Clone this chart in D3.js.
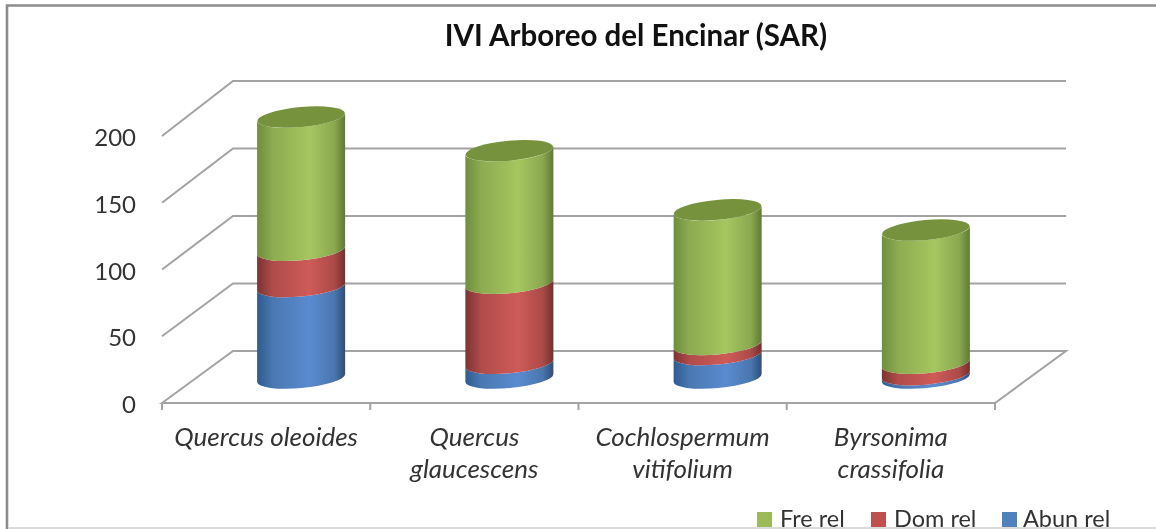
<!DOCTYPE html>
<html>
<head>
<meta charset="utf-8">
<script src="https://cdn.jsdelivr.net/npm/d3@7"></script>
<style>
html, body { margin: 0; padding: 0; background: #fff; overflow: hidden; }
text { font-family: Lato, "Open Sans", sans-serif; fill: #333; }
svg { filter: blur(0.45px); }
</style>
</head>
<body>
<div id="chart"></div>
<script>
// values
const categories = [
    ["Quercus oleoides"],
    ["Quercus", "glaucescens"],
    ["Cochlospermum", "vitifolium"],
    ["Byrsonima", "crassifolia"]
];
const abunRel = [68, 11, 17.5, 2.5];
const domRel = [27, 59.5, 7.5, 8.5];
const freRel = [99, 98.5, 100, 99];
const yTicks = [0, 50, 100, 150, 200];
const seriesNames = ["Abun rel", "Dom rel", "Fre rel"];

const width = 1156, height = 529;
const colors = {
    "Abun rel": { edgeL: "#2f5b90", soft: "#4a78b2", mid: "#5a8bd0", softR: "#4a76ae", edgeR: "#2c4e7a", flat: "#4f81bd" },
    "Dom rel": { edgeL: "#7c3331", soft: "#b04c4a", mid: "#ce5b58", softR: "#ab4a48", edgeR: "#732f2d", flat: "#c0504d" },
    "Fre rel": { edgeL: "#6f8e3c", soft: "#8dab50", mid: "#a5c660", softR: "#8aa84f", edgeR: "#5e7a35", flat: "#9bbb59" }
};
const topColor = "#76923c";
const gridColor = "#a3a3a3";

// 3d box: front plane, back plane, and the plane the cylinders stand in
const xFront = d3.scaleBand().domain(d3.range(4)).range([162, 995]);
const xMid = d3.scaleBand().domain(d3.range(4)).range([197, 1030]);
const yFront = d3.scaleLinear().domain([0, 200]).range([403, 136]);
const yBack = d3.scaleLinear().domain([0, 200]).range([351, 81]);
const yMid = d3.scaleLinear().domain([0, 200]).range([378, 109]);
const backLeft = 233, backRight = 1066;

const barRx = 44, barRy = 10, slant = 4, tilt = -5.3;

const svg = d3.select("#chart")
    .append("svg")
    .attr("width", width)
    .attr("height", height)
    .style("display", "block");

// outer frame, the right side is cut off in the picture
svg.append("path")
    .attr("d", "M7,529V5.5H1156")
    .attr("fill", "none")
    .attr("stroke", "#8c8c8c")
    .attr("stroke-width", 2.6);
svg.append("line")
    .attr("x1", 8).attr("x2", 1156)
    .attr("y1", 528).attr("y2", 528)
    .attr("stroke", "#cfcfcf")
    .attr("stroke-width", 1.5);

svg.append("text")
    .attr("x", 636)
    .attr("y", 46)
    .attr("text-anchor", "middle")
    .attr("font-size", 29.5)
    .attr("font-weight", "bold")
    .style("fill", "#111")
    .text("IVI Arboreo del Encinar (SAR)");

// gradients for cylinder sides
let defs = svg.append("defs");
seriesNames.forEach(function (name, i) {
    let grad = defs.append("linearGradient")
        .attr("id", "side-" + i);
    grad.append("stop").attr("offset", "0%").attr("stop-color", colors[name].edgeL);
    grad.append("stop").attr("offset", "18%").attr("stop-color", colors[name].soft);
    grad.append("stop").attr("offset", "60%").attr("stop-color", colors[name].mid);
    grad.append("stop").attr("offset", "88%").attr("stop-color", colors[name].softR);
    grad.append("stop").attr("offset", "100%").attr("stop-color", colors[name].edgeR);
});

// ****** walls and grid **************
let grid = svg.append("g")
    .attr("fill", "none")
    .attr("stroke", gridColor)
    .attr("stroke-width", 2);

grid.selectAll(".grid")
    .data(yTicks.slice(1))
    .enter()
    .append("path")
    .attr("class", "grid")
    .attr("d", function (t) {
        return "M" + xFront.range()[0] + "," + yFront(t) + "L" + backLeft + "," + yBack(t) + "H" + backRight;
    });

// floor
grid.append("path")
    .attr("d", "M" + xFront.range()[0] + "," + yFront(0) + "L" + backLeft + "," + yBack(0) + "H" + backRight
        + "L" + xFront.range()[1] + "," + yFront(0) + "Z");

// category ticks
let edges = d3.range(4).map(function (i) { return xFront(i); }).concat([xFront.range()[1]]);
grid.selectAll(".xtick")
    .data(edges)
    .enter()
    .append("line")
    .attr("class", "xtick")
    .attr("x1", function (d) { return d; })
    .attr("x2", function (d) { return d; })
    .attr("y1", yFront(0))
    .attr("y2", yFront(0) + 7);

// ****** y labels **************
svg.selectAll(".ylabel")
    .data(yTicks)
    .enter()
    .append("text")
    .attr("class", "ylabel")
    .attr("x", 136)
    .attr("y", function (t) { return yFront(t) + 10; })
    .attr("text-anchor", "end")
    .attr("font-size", 24)
    .text(function (t) { return t; });

// ****** category labels **************
let catLabels = svg.selectAll(".cat")
    .data(categories)
    .enter()
    .append("text")
    .attr("class", "cat")
    .attr("font-size", 26)
    .attr("font-style", "italic")
    .attr("text-anchor", "middle");
catLabels.selectAll("tspan")
    .data(function (d, i) {
        return d.map(function (line, j) { return { line: line, j: j, i: i }; });
    })
    .enter()
    .append("tspan")
    .attr("x", function (d) { return xFront(d.i) + xFront.bandwidth() / 2; })
    .attr("y", function (d) { return 446 + d.j * 32; })
    .text(function (d) { return d.line; });

// ****** cylinders **************
let rows = categories.map(function (c, i) {
    return { "Abun rel": abunRel[i], "Dom rel": domRel[i], "Fre rel": freRel[i], index: i };
});
let stacked = d3.stack().keys(seriesNames)(rows);

let sidePath = function (cx, y0, y1) {
    let arc = " " + barRx + " " + barRy + " " + tilt + " 0 ";
    return "M" + (cx - barRx) + "," + (y0 + slant)
        + "A" + arc + "0 " + (cx + barRx) + "," + (y0 - slant)
        + "L" + (cx + barRx) + "," + (y1 - slant)
        + "A" + arc + "1 " + (cx - barRx) + "," + (y1 + slant)
        + "Z";
};

let barCenter = function (i) { return xMid(i) + xMid.bandwidth() / 2; };

stacked.forEach(function (layer, s) {
    svg.append("g")
        .selectAll("path")
        .data(layer)
        .enter()
        .append("path")
        .attr("d", function (d) {
            return sidePath(barCenter(d.data.index), yMid(d[0]), yMid(d[1]));
        })
        .attr("fill", "url(#side-" + s + ")");
});

// lid of the top segment
svg.append("g")
    .selectAll("ellipse")
    .data(stacked[stacked.length - 1])
    .enter()
    .append("ellipse")
    .attr("rx", barRx)
    .attr("ry", barRy)
    .attr("transform", function (d) {
        return "translate(" + barCenter(d.data.index) + "," + yMid(d[1]) + ") rotate(" + tilt + ")";
    })
    .attr("fill", topColor);

// ****** legend **************
let legendData = [
    { name: "Fre rel", box: 757, label: 780 },
    { name: "Dom rel", box: 871, label: 894 },
    { name: "Abun rel", box: 1002, label: 1023 }
];
let legend = svg.selectAll(".legend")
    .data(legendData)
    .enter()
    .append("g")
    .attr("class", "legend");
legend.append("rect")
    .attr("x", function (d) { return d.box; })
    .attr("y", 512)
    .attr("width", 15)
    .attr("height", 15)
    .attr("fill", function (d) { return colors[d.name].flat; });
legend.append("text")
    .attr("x", function (d) { return d.label; })
    .attr("y", 527)
    .attr("font-size", 23.5)
    .text(function (d) { return d.name; });
</script>
</body>
</html>
